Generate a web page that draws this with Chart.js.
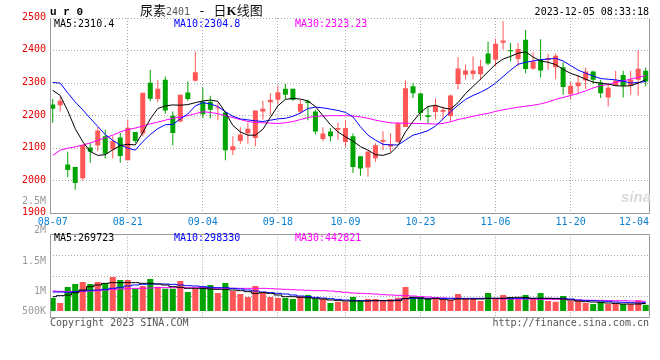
<!DOCTYPE html>
<html lang="zh-CN">
<head>
<meta charset="utf-8">
<title>尿素2401 - 日K线图</title>
<script src="https://cdn.jsdelivr.net/npm/chart.js@4.4.1/dist/chart.umd.min.js"></script>
<style>
html,body{margin:0;padding:0;background:#fff;}
#wrap{position:relative;width:660px;height:360px;overflow:hidden;}
.t{position:absolute;white-space:nowrap;line-height:10px;font-size:10px;font-family:'DejaVu Sans Mono',monospace;color:#000;}
#pc{position:absolute;left:0;top:0;width:660px;height:226px;}
#vc{position:absolute;left:0;top:226px;width:660px;height:134px;}
</style>
</head>
<body>
<div id="wrap">
  <div id="pc"><canvas id="priceCanvas"></canvas></div>
  <div id="vc"><canvas id="volCanvas"></canvas></div>

  <div class="t" style="left:50px;top:6.6px;font:bold 11px 'Liberation Mono',monospace;line-height:11px;">u r 0</div>
  <div class="t" style="left:140px;top:3px;font-size:13px;line-height:13px;font-family:'Noto Sans CJK SC',sans-serif;color:#111;">尿素<span style="font-family:'DejaVu Sans Mono',monospace;font-size:10px;color:#555;">2401</span><span style="font-family:'DejaVu Sans Mono',monospace;font-size:13px;"> - </span>日<b style="font-family:'Liberation Serif',serif;">K</b>线图</div>
  <div class="t" style="right:11px;top:7.2px;">2023-12-05 08:33:18</div>

  <div class="t" style="left:54px;top:19px;color:#000;">MA5:2310.4</div>
  <div class="t" style="left:174px;top:19px;color:#0000ff;">MA10:2304.8</div>
  <div class="t" style="left:295px;top:19px;color:#ff00ff;">MA30:2323.23</div>

  <div class="t" style="right:614px;top:195.5px;color:#999;">2.5M</div>
  <div id="volLabels"></div>

  <div class="t" style="left:54px;top:233px;color:#000;">MA5:269723</div>
  <div class="t" style="left:174px;top:233px;color:#0000ff;">MA10:298330</div>
  <div class="t" style="left:295px;top:233px;color:#ff00ff;">MA30:442821</div>

  <div class="t" style="left:50px;top:318px;color:#555;">Copyright 2023 SINA.COM</div>
  <div class="t" style="right:11px;top:318px;color:#555;">http://finance.sina.com.cn</div>
  <div class="t" style="left:621px;top:189px;font:italic bold 15px 'Liberation Sans',sans-serif;line-height:15px;color:#d9d9d9;">sina</div>
</div>

<script>
// ---------------- data ----------------
const dates = [
 '08-07','08-08','08-09','08-10','08-11','08-14','08-15','08-16','08-17','08-18',
 '08-21','08-22','08-23','08-24','08-25','08-28','08-29','08-30','08-31','09-01',
 '09-04','09-05','09-06','09-07','09-08','09-11','09-12','09-13','09-14','09-15',
 '09-18','09-19','09-20','09-21','09-22','09-25','09-26','09-27','09-28','10-09',
 '10-10','10-11','10-12','10-13','10-16','10-17','10-18','10-19','10-20','10-23',
 '10-24','10-25','10-26','10-27','10-30','10-31','11-01','11-02','11-03','11-06',
 '11-07','11-08','11-09','11-10','11-13','11-14','11-15','11-16','11-17','11-20',
 '11-21','11-22','11-23','11-24','11-27','11-28','11-29','11-30','12-01','12-04'
];
const open = [
 2234,2232,2050,2042,2008,2102,2108,2137,2096,2133,
 2063,2150,2145,2301,2251,2310,2200,2182,2271,2307,
 2243,2243,2222,2210,2094,2122,2145,2131,2213,2241,
 2249,2283,2283,2212,2244,2213,2128,2151,2157,2119,
 2137,2075,2041,2069,2120,2105,2119,2165,2290,2268,
 2201,2211,2212,2199,2297,2326,2328,2327,2391,2372,
 2424,2402,2374,2433,2344,2371,2371,2349,2349,2266,
 2290,2308,2336,2302,2256,2292,2325,2292,2310,2338
];
const high = [
 2251,2259,2089,2042,2110,2116,2165,2157,2137,2147,
 2188,2150,2270,2341,2310,2320,2213,2264,2305,2397,
 2287,2261,2239,2212,2137,2164,2178,2216,2246,2269,
 2292,2297,2283,2249,2249,2218,2164,2162,2178,2185,
 2145,2075,2090,2115,2152,2146,2181,2308,2300,2271,
 2228,2253,2228,2265,2380,2357,2382,2372,2427,2437,
 2490,2423,2423,2463,2394,2435,2390,2390,2364,2305,
 2325,2348,2338,2310,2298,2338,2338,2338,2400,2348
];
const low = [
 2178,2213,2011,1972,2001,2055,2091,2068,2068,2055,
 2063,2116,2137,2244,2241,2206,2109,2180,2246,2305,
 2192,2192,2186,2063,2079,2114,2114,2106,2188,2203,
 2234,2251,2246,2206,2186,2143,2121,2121,2126,2104,
 2024,2015,2012,2058,2094,2087,2117,2165,2254,2187,
 2174,2189,2189,2181,2280,2311,2311,2309,2355,2352,
 2403,2366,2351,2330,2341,2317,2341,2312,2264,2251,
 2269,2282,2298,2254,2228,2290,2256,2264,2262,2290
];
const close = [
 2221,2246,2033,1993,2110,2089,2154,2083,2122,2076,
 2163,2122,2270,2252,2283,2216,2147,2264,2251,2333,
 2204,2218,2225,2094,2106,2142,2160,2216,2221,2249,
 2272,2264,2249,2236,2239,2151,2145,2137,2162,2162,
 2042,2038,2090,2109,2125,2112,2177,2284,2269,2208,
 2196,2230,2217,2262,2345,2339,2339,2352,2360,2421,
 2431,2398,2405,2343,2366,2339,2377,2384,2288,2292,
 2302,2336,2310,2269,2286,2308,2292,2310,2344,2305
];
const ma5 = [
 2278,2262,2215,2160,2120,2090,2078,2080,2095,2108,
 2112,2110,2148,2190,2222,2230,2233,2232,2234,2240,
 2245,2248,2244,2210,2170,2150,2140,2140,2158,2195,
 2230,2250,2253,2251,2245,2228,2200,2172,2150,2135,
 2122,2105,2094,2080,2078,2085,2108,2150,2182,2210,
 2228,2232,2224,2220,2240,2268,2290,2312,2335,2358,
 2374,2382,2392,2396,2380,2368,2364,2357,2342,2330,
 2322,2312,2303,2300,2297,2292,2291,2292,2300,2310.4
];
const ma10 = [
 2302,2300,2270,2242,2218,2192,2167,2142,2124,2110,
 2100,2094,2120,2142,2160,2172,2173,2190,2205,2230,
 2240,2236,2228,2212,2198,2190,2187,2184,2182,2186,
 2190,2192,2198,2208,2222,2226,2224,2220,2216,2210,
 2196,2166,2140,2125,2112,2110,2110,2125,2140,2146,
 2154,2168,2190,2212,2232,2250,2262,2272,2284,2300,
 2320,2340,2358,2364,2368,2372,2374,2376,2368,2354,
 2340,2330,2322,2314,2312,2310,2306,2300,2302,2304.8
];
const ma30 = [
 2078,2094,2100,2104,2110,2116,2124,2132,2140,2150,
 2157,2162,2168,2175,2180,2186,2192,2196,2200,2206,
 2212,2210,2206,2200,2194,2188,2182,2179,2178,2177,
 2176,2178,2182,2188,2194,2198,2199,2200,2200,2200,
 2199,2196,2192,2186,2182,2178,2177,2177,2176,2176,
 2175,2174,2176,2181,2188,2193,2198,2203,2207,2213,
 2218,2222,2226,2229,2232,2236,2242,2250,2256,2262,
 2268,2276,2285,2292,2296,2302,2307,2312,2318,2323.23
];
const volume = [
 468000,288000,864000,972000,1044000,972000,1044000,996000,1224000,1116000,
 1116000,804000,900000,1152000,876000,804000,804000,1080000,684000,804000,
 876000,936000,648000,1008000,720000,612000,504000,900000,648000,504000,
 468000,468000,432000,540000,576000,432000,432000,288000,336000,336000,
 504000,360000,432000,432000,360000,432000,480000,864000,504000,504000,
 432000,432000,396000,396000,612000,432000,432000,360000,648000,432000,
 576000,504000,432000,576000,432000,648000,360000,336000,540000,360000,
 360000,288000,252000,336000,252000,288000,252000,252000,384000,228000
];
const volMa5 = [
 516000,552000,576000,660000,756000,876000,936000,996000,1020000,1020000,
 1020000,1020000,996000,996000,972000,936000,876000,852000,816000,816000,
 816000,792000,780000,780000,756000,732000,696000,636000,660000,636000,
 576000,516000,516000,492000,480000,456000,432000,396000,384000,360000,
 360000,360000,360000,372000,372000,372000,372000,444000,492000,468000,
 432000,456000,420000,396000,432000,432000,432000,432000,456000,456000,
 456000,480000,492000,480000,456000,456000,456000,444000,432000,396000,
 360000,336000,324000,312000,288000,276000,252000,252000,252000,269723
];
const volMa10 = [
 684000,684000,672000,696000,720000,744000,756000,780000,816000,852000,
 900000,936000,960000,972000,972000,972000,960000,936000,912000,900000,
 876000,852000,840000,840000,816000,792000,756000,720000,684000,660000,
 636000,612000,576000,540000,516000,492000,468000,444000,420000,396000,
 372000,372000,372000,372000,372000,372000,396000,444000,456000,456000,
 456000,456000,456000,456000,456000,456000,456000,456000,456000,456000,
 456000,456000,456000,456000,456000,456000,456000,456000,456000,432000,
 396000,384000,372000,360000,348000,324000,312000,300000,288000,298330
];
const volMa30 = [
 720000,708000,696000,696000,708000,720000,732000,756000,780000,792000,
 804000,816000,816000,828000,840000,840000,840000,840000,840000,840000,
 840000,828000,816000,816000,816000,816000,816000,816000,816000,804000,
 792000,780000,768000,756000,744000,732000,732000,720000,696000,672000,
 648000,636000,624000,612000,588000,576000,564000,552000,540000,516000,
 504000,480000,468000,456000,456000,444000,444000,444000,444000,444000,
 432000,432000,432000,432000,432000,420000,420000,420000,420000,408000,
 396000,384000,384000,384000,372000,372000,372000,360000,360000,348000
];
const xTickLabels = ['08-07','08-21','09-04','09-18','10-09','10-23','11-06','11-20','12-04'];
const priceMin = 1900, priceMax = 2500, priceStep = 100;
const volMin = -241200, volMax = 2761200;
const volAxisLabels = ['2M','1.5M','1M','500K'];

// ---------------- styling / helpers ----------------
const UP = '#ff5757', DOWN = '#00a400';
const GRID = '#a8a8a8';
const colorAt = i => (close[i] >= open[i] ? UP : DOWN);
const xTickIdx = xTickLabels.map(l => dates.indexOf(l));
const xMin = -0.36, xMax = dates.length - 1 + 0.44;

// volume axis labels (as text, same spots as the reference)
(function(){
  const tops = [224.8, 255.5, 285.8, 305.5];
  const holder = document.getElementById('volLabels');
  volAxisLabels.forEach((l, k) => {
    const d = document.createElement('div');
    d.className = 't';
    d.style.right = '614px';
    d.style.top = tops[k] + 'px';
    d.style.color = '#999';
    d.textContent = l;
    holder.appendChild(d);
  });
})();

const pts = arr => arr.map((v, i) => ({x: i, y: v}));
const lineDs = (arr, color, extra) => Object.assign({
  type: 'line', data: pts(arr), borderColor: color, borderWidth: 1,
  pointRadius: 0, pointHoverRadius: 0, tension: 0, fill: false
}, extra || {});

const xScale = (h) => ({
  type: 'linear', min: xMin, max: xMax, offset: false,
  grid: {
    offset: false, drawTicks: false, lineWidth: 1,
    color: c => (c.index === 0 || c.index === xTickIdx.length - 1) ? 'rgba(0,0,0,0)' : GRID
  },
  border: {display: false, dash: [1, 2]},
  ticks: {display: false},
  afterBuildTicks: s => { s.ticks = xTickIdx.map(v => ({value: v})); },
  afterFit: s => { s.height = h; }
});

function framePlugin(full) {
  return {
    id: 'frame',
    afterDatasetsDraw(c) {
      const {ctx, chartArea: a} = c;
      const L = Math.floor(a.left) + 0.5, R = Math.floor(a.right) + 0.5;
      const T = Math.floor(a.top) + 0.5, B = Math.floor(a.bottom) + 0.5;
      ctx.save();
      ctx.setLineDash([]);
      ctx.strokeStyle = '#999';
      ctx.lineWidth = 1;
      ctx.beginPath();
      if (full) { ctx.rect(L, T, R - L, B - T); }
      else { ctx.moveTo(L, T); ctx.lineTo(L, B); ctx.lineTo(R, B); ctx.lineTo(R, T); }
      ctx.stroke();
      ctx.restore();
    }
  };
}

const xLabelPlugin = {
  id: 'xlabels',
  afterDraw(c) {
    const s = c.scales.x, a = c.chartArea, ctx = c.ctx;
    ctx.save();
    ctx.font = "10px 'DejaVu Sans Mono'";
    ctx.fillStyle = '#0a7fd2';
    ctx.textBaseline = 'alphabetic';
    xTickLabels.forEach((l, k) => {
      let px = s.getPixelForValue(xTickIdx[k]);
      const w = ctx.measureText(l).width;
      ctx.textAlign = 'center';
      if (px + w / 2 > a.right) { ctx.textAlign = 'right'; px = a.right; }
      ctx.fillText(l, px, a.bottom + 11.7);
    });
    ctx.restore();
  }
};

// ---------------- price chart ----------------
new Chart(document.getElementById('priceCanvas'), {
  type: 'bar',
  data: {
    datasets: [
      lineDs(ma5, '#000000'),
      lineDs(ma10, '#0000ff'),
      lineDs(ma30, '#ff00ff'),
      {type: 'bar', data: dates.map((d, i) => ({x: i, y: [open[i], close[i]]})),
       backgroundColor: c => colorAt(c.dataIndex), barThickness: 5, minBarLength: 1,
       grouped: false, inflateAmount: 0, borderWidth: 0},
      {type: 'bar', data: dates.map((d, i) => ({x: i, y: [low[i], high[i]]})),
       backgroundColor: c => colorAt(c.dataIndex), barThickness: 1,
       grouped: false, inflateAmount: 0, borderWidth: 0}
    ]
  },
  options: {
    responsive: true, maintainAspectRatio: false, animation: false, devicePixelRatio: 1,
    layout: {padding: {top: 18, right: 11, left: 0, bottom: 0}},
    plugins: {legend: {display: false}, tooltip: {enabled: false}},
    scales: {
      x: xScale(12.7),
      y: {
        min: priceMin, max: priceMax,
        grid: {color: GRID, drawTicks: false},
        border: {display: false, dash: [1, 2]},
        ticks: {stepSize: priceStep, color: '#e60000', font: {family: 'DejaVu Sans Mono', size: 10},
                padding: 4, labelOffset: -0.7, callback: v => String(v)},
        afterFit: s => { s.width = 50; }
      }
    }
  },
  plugins: [framePlugin(false), xLabelPlugin]
});

// ---------------- volume chart ----------------
new Chart(document.getElementById('volCanvas'), {
  type: 'bar',
  data: {
    datasets: [
      lineDs(volMa5, '#000000', {stepped: 'middle'}),
      lineDs(volMa10, '#0000ff', {stepped: 'middle'}),
      lineDs(volMa30, '#ff00ff', {stepped: 'middle'}),
      {type: 'bar', data: pts(volume), backgroundColor: c => colorAt(c.dataIndex),
       barThickness: 6, grouped: false, inflateAmount: 0, borderWidth: 0}
    ]
  },
  options: {
    responsive: true, maintainAspectRatio: false, animation: false, devicePixelRatio: 1,
    layout: {padding: {top: 8.3, right: 11, left: 0, bottom: 0}},
    plugins: {legend: {display: false}, tooltip: {enabled: false}},
    scales: {
      x: xScale(42.3),
      y: {
        min: volMin, max: volMax,
        grid: {color: GRID, drawTicks: false},
        border: {display: false, dash: [1, 2]},
        ticks: {display: false},
        afterBuildTicks: s => {
          const n = 4, st = (s.max - s.min) / n;
          s.ticks = Array.from({length: n + 1}, (_, k) => ({value: s.min + k * st}));
        },
        afterFit: s => { s.width = 50; }
      }
    }
  },
  plugins: [framePlugin(true)]
});
</script>
</body>
</html>
